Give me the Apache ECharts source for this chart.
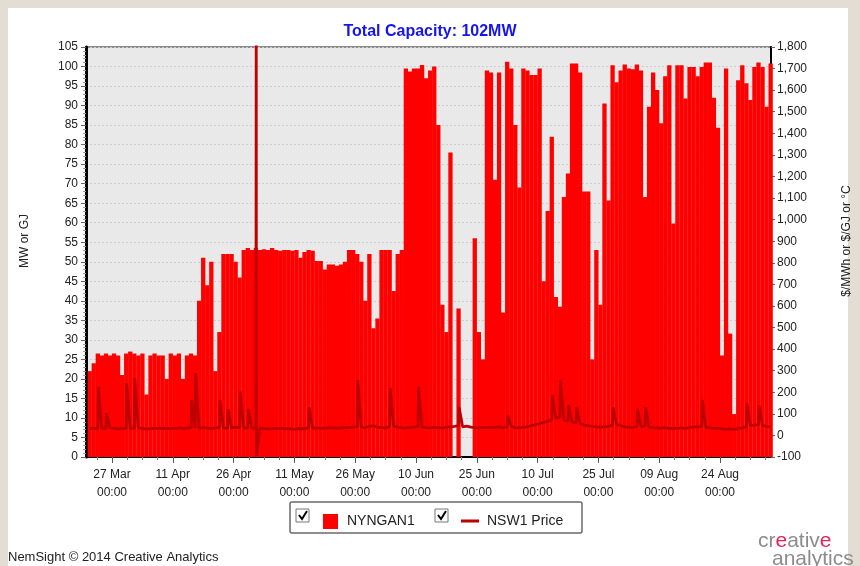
<!DOCTYPE html>
<html><head><meta charset="utf-8">
<script src="https://cdn.jsdelivr.net/npm/echarts@6/dist/echarts.min.js"></script>
<style>html,body{margin:0;padding:0;background:#fff;}
#c{position:absolute;left:0;top:0;width:860px;height:566px;}</style>
</head><body><div id="c"></div>
<script>
// ---- data ----
const firstDay = [2014, 3, 21];           // first generation day (year, month, day)
const generation = [ // NYNGAN1 daily peak MW
  22, 24, 26.5, 26, 26.5, 26, 26.5, 26, 21, 26.5,
  27, 26.5, 26, 26.5, 16, 26, 26.5, 26, 26, 20,
  26.5, 26, 26.5, 20, 26, 26.5, 26, 40, 51, 44,
  50, 22, 32, 52, 52, 52, 50, 46, 53, 53.5,
  53, 53.5, 53, 53.2, 53, 53.5, 53, 52.8, 53, 53,
  52.8, 53, 51, 52.5, 53, 52.8, 50.2, 50.2, 48, 49.3,
  49.3, 49, 49.3, 50, 53, 53, 52, 50, 40, 52,
  33, 35.5, 53, 53, 53, 42.5, 52, 53, 99.5, 98.7,
  99.5, 99.5, 100.4, 97, 99, 100, 85, 39, 32, 78,
  0, 38, 0, 0, 0, 56, 32, 25, 99, 98.5,
  71, 98.5, 37, 101.2, 99.5, 85, 69, 99.5, 99, 97.8,
  97.8, 99.5, 45, 63, 82, 41, 38.5, 66.6, 72.6, 100.8,
  100.8, 98.5, 68, 68, 25, 53, 39, 90.5, 65.7, 100.3,
  96, 99, 100.5, 99.5, 99.3, 100.5, 99, 66.6, 89.7, 98.5,
  94, 85.5, 97.5, 100.3, 59.8, 100.3, 100.3, 91.8, 99.9, 99.9,
  97.5, 99.9, 101, 101, 92, 84.3, 26, 99.5, 31.6, 11,
  96.5, 100.3, 95.7, 91.4, 99.9, 101, 99.9, 89.7, 100.8
];
const priceDaily = [ // NSW1 price, typical daily level $/MWh
  32, 34, 30, 33, 31, 35, 33, 30, 32, 34, 31, 33, 35, 32, 30, 31, 33, 34, 32, 33,
  31, 33, 35, 32, 34, 36, 35, 33, 36, 34, 32, 35, 37, 34, 33, 35, 38, 36, 34, 35,
  33, 35, 34, 32, 30, 31, 33, 32, 30, 31, 29, 30, 32, 31, 34, 33, 35, 33, 34, 36,
  35, 34, 36, 35, 37, 38, 40, 37, 36, 42, 45, 38, 36, 35, 40, 44, 38, 36, 35, 37,
  38, 42, 38, 36, 35, 37, 36, 34, 38, 40, 42, 45, 40, 43, 38, 36, 35, 37, 36, 38,
  37, 40, 36, 38, 42, 36, 35, 38, 40, 45, 50, 55, 60, 65, 72, 80, 85, 70, 68, 62,
  58, 55, 48, 45, 42, 40, 38, 40, 42, 48, 50, 45, 40, 38, 36, 42, 40, 45, 38, 36,
  35, 34, 36, 33, 32, 34, 35, 33, 36, 38, 40, 42, 37, 35, 33, 34, 30, 28, 30, 27,
  32, 35, 40, 45, 48, 50, 45, 42, 40
];
const priceSpikes = [ // [time, $/MWh]
  ['2014-03-23 15:00', 226], ['2014-03-25 15:00', 104], ['2014-03-30 15:00', 243],
  ['2014-04-01 15:00', 266], ['2014-04-15 15:00', 164], ['2014-04-16 15:00', 289],
  ['2014-04-22 15:00', 164], ['2014-04-24 15:00', 122], ['2014-04-27 15:00', 203],
  ['2014-04-29 15:00', 122], ['2014-05-01 14:00', 2000], ['2014-05-01 15:00', -95],
  ['2014-05-14 15:00', 132], ['2014-05-26 15:00', 257], ['2014-06-03 15:00', 220],
  ['2014-06-10 15:00', 226], ['2014-06-20 15:00', 132], ['2014-07-02 15:00', 95],
  ['2014-07-13 15:00', 187], ['2014-07-15 15:00', 257], ['2014-07-17 15:00', 141],
  ['2014-07-19 15:00', 132], ['2014-07-28 15:00', 132], ['2014-08-03 15:00', 125],
  ['2014-08-05 15:00', 132], ['2014-08-19 15:00', 164], ['2014-08-30 15:00', 150],
  ['2014-09-02 15:00', 140]
];
const xRange = ['2014-03-20 14:00', '2014-09-05 14:00'];
const xTickDates = ['2014-03-27','2014-04-11','2014-04-26','2014-05-11','2014-05-26','2014-06-10',
                    '2014-06-25','2014-07-10','2014-07-25','2014-08-09','2014-08-24'];
const xTickLabels = ['27 Mar','11 Apr','26 Apr','11 May','26 May','10 Jun',
                     '25 Jun','10 Jul','25 Jul','09 Aug','24 Aug'];
const seriesNames = ['NYNGAN1', 'NSW1 Price'];
const titleText = 'Total Capacity: 102MW';

// ---- helpers ----
function ts(s) {
  const [d, t] = s.split(' ');
  const [y, m, dd] = d.split('-').map(Number);
  const [hh, mm] = (t || '00:00').split(':').map(Number);
  return Date.UTC(y, m - 1, dd, hh, mm);
}
const DAY = 86400000;
const day0 = Date.UTC(firstDay[0], firstDay[1] - 1, firstDay[2], 12);
const genData = generation.map((v, i) => [day0 + i * DAY, v]);
const priceData = priceDaily.map((v, i) => [day0 + i * DAY, v])
  .concat(priceSpikes.map(p => [ts(p[0]), p[1]]))
  .sort((a, b) => a[0] - b[0]);
const xMin = ts(xRange[0]), xMax = ts(xRange[1]);
const majorTicks = xTickDates.map(d => ts(d));
const minorTicks = [];
for (let k = -1; k < majorTicks.length; k++) {
  const base = k < 0 ? majorTicks[0] - 15 * DAY : majorTicks[k];
  for (let j = 1; j <= 3; j++) {
    const v = base + j * 3.75 * DAY;
    if (v > xMin && v < xMax) minorTicks.push(v);
  }
}
const FONT = 'Liberation Sans, Arial, sans-serif';

const chart = echarts.init(document.getElementById('c'));
chart.setOption({
  animation: false,
  backgroundColor: '#ffffff',
  title: {
    text: titleText, left: 'center', top: 19,
    textStyle: { color: '#1414ee', fontSize: 16, fontWeight: 'bold', fontFamily: FONT }
  },
  grid: {
    left: 86, right: 89, top: 47, bottom: 109, outerBoundsMode: 'none', containLabel: false,
    show: true, backgroundColor: '#e9e9e9', borderColor: '#8a8a8a', borderWidth: 2
  },
  legend: [
    { data: [seriesNames[0]], left: 318, top: 509, itemWidth: 15, itemHeight: 15, icon: 'rect',
      textStyle: { fontSize: 14, color: '#222', fontFamily: FONT, padding: [0, 0, 0, 4] } },
    { data: [seriesNames[1]], left: 456, top: 509, itemWidth: 18, itemHeight: 3, icon: 'rect',
      textStyle: { fontSize: 14, color: '#222', fontFamily: FONT, padding: [0, 0, 0, 3] } }
  ],
  xAxis: [
    {
      type: 'value', min: xMin, max: xMax,
      axisLine: { onZero: false, lineStyle: { color: '#000', width: 2 } },
      axisTick: { show: true, customValues: majorTicks, length: 6, lineStyle: { color: '#555' } },
      axisLabel: {
        customValues: majorTicks, margin: 9, color: '#222', fontSize: 12, fontFamily: FONT, lineHeight: 18,
        formatter: v => {
          const i = majorTicks.findIndex(t => Math.abs(t - v) < 1000);
          return i >= 0 ? xTickLabels[i] + '\n00:00' : '';
        }
      },
      splitLine: { show: false }
    },
    {
      type: 'value', min: xMin, max: xMax, position: 'bottom',
      axisLine: { show: false, onZero: false },
      axisTick: { show: true, customValues: minorTicks, length: 3, lineStyle: { color: '#777' } },
      axisLabel: { show: false },
      splitLine: { show: false }
    }
  ],
  yAxis: [
    {
      type: 'value', min: 0, max: 105, interval: 5, position: 'left',
      name: 'MW or GJ', nameLocation: 'middle', nameGap: 55, nameRotate: 90,
      nameTextStyle: { fontSize: 12, color: '#222', fontFamily: FONT, padding: [0, 0, 0, 22] },
      axisLine: { show: true, lineStyle: { color: '#000', width: 3 } },
      axisTick: { show: true, length: 5, lineStyle: { color: '#666' } },
      minorTick: { show: true, splitNumber: 5, length: 3, lineStyle: { color: '#999' } },
      axisLabel: { color: '#222', fontSize: 12, fontFamily: FONT, margin: 8 },
      splitLine: { show: true, lineStyle: { color: '#cdcdcd', type: [2, 2], width: 1 } }
    },
    {
      type: 'value', min: -100, max: 1800, interval: 100, position: 'right',
      name: '$/MWh or $/GJ or \u00b0C', nameLocation: 'middle', nameGap: 70, nameRotate: 90,
      nameTextStyle: { fontSize: 12, color: '#222', fontFamily: FONT, padding: [0, 0, 0, 22] },
      axisLine: { show: true, lineStyle: { color: '#000', width: 2 } },
      axisTick: { show: true, length: 4, lineStyle: { color: '#666' } },
      axisLabel: { color: '#222', fontSize: 12, fontFamily: FONT, margin: 6,
        formatter: v => v.toLocaleString('en-US') },
      splitLine: { show: false }
    }
  ],
  series: [
    {
      name: seriesNames[0], type: 'bar', xAxisIndex: 0, yAxisIndex: 0,
      data: genData, barWidth: 4.3, itemStyle: { color: '#ff0000' }, z: 2
    },
    {
      name: seriesNames[1], type: 'line', xAxisIndex: 0, yAxisIndex: 1,
      data: priceData, showSymbol: false, symbol: 'none', clip: true,
      lineStyle: { color: '#bf0000', width: 2.8 }, itemStyle: { color: '#bf0000' }, z: 3
    }
  ],
  graphic: [
    { type: 'rect', z: -10, silent: true, shape: { x: 0, y: 0, width: 860, height: 8 }, style: { fill: '#e4ddd4' } },
    { type: 'rect', z: -10, silent: true, shape: { x: 0, y: 0, width: 8, height: 566 }, style: { fill: '#e4ddd4' } },
    { type: 'rect', z: -10, silent: true, shape: { x: 848, y: 0, width: 12, height: 566 }, style: { fill: '#e4ddd4' } },
    { type: 'rect', z: -5, silent: true, shape: { x: 290, y: 502, width: 292, height: 31, r: 2 },
      style: { fill: '#ffffff', stroke: '#6a6a6a', lineWidth: 1.5 } },
    { type: 'rect', z: 10, silent: true, shape: { x: 296, y: 509, width: 13, height: 13 },
      style: { fill: '#ffffff', stroke: '#777', lineWidth: 1 } },
    { type: 'polyline', z: 11, silent: true, shape: { points: [[299, 515], [302, 519], [307, 511]] },
      style: { stroke: '#000', lineWidth: 2, fill: null } },
    { type: 'rect', z: 10, silent: true, shape: { x: 435, y: 509, width: 13, height: 13 },
      style: { fill: '#ffffff', stroke: '#777', lineWidth: 1 } },
    { type: 'polyline', z: 11, silent: true, shape: { points: [[438, 515], [441, 519], [446, 511]] },
      style: { stroke: '#000', lineWidth: 2, fill: null } },
    { type: 'text', left: 8, top: 551, silent: true,
      style: { text: 'NemSight \u00a9 2014 Creative Analytics', fontSize: 13, fill: '#222', font: '13px ' + FONT } },
    { type: 'text', left: 758, top: 531, silent: true,
      style: { text: 'cr{r|e}ativ{r|e}', font: '21px ' + FONT, fill: '#8c8c8c',
        rich: { r: { fill: '#e0245e', font: '21px ' + FONT } } } },
    { type: 'text', left: 772, top: 549, silent: true,
      style: { text: 'analytics', font: '21px ' + FONT, fill: '#8c8c8c' } }
  ]
});
</script>
</body></html>
